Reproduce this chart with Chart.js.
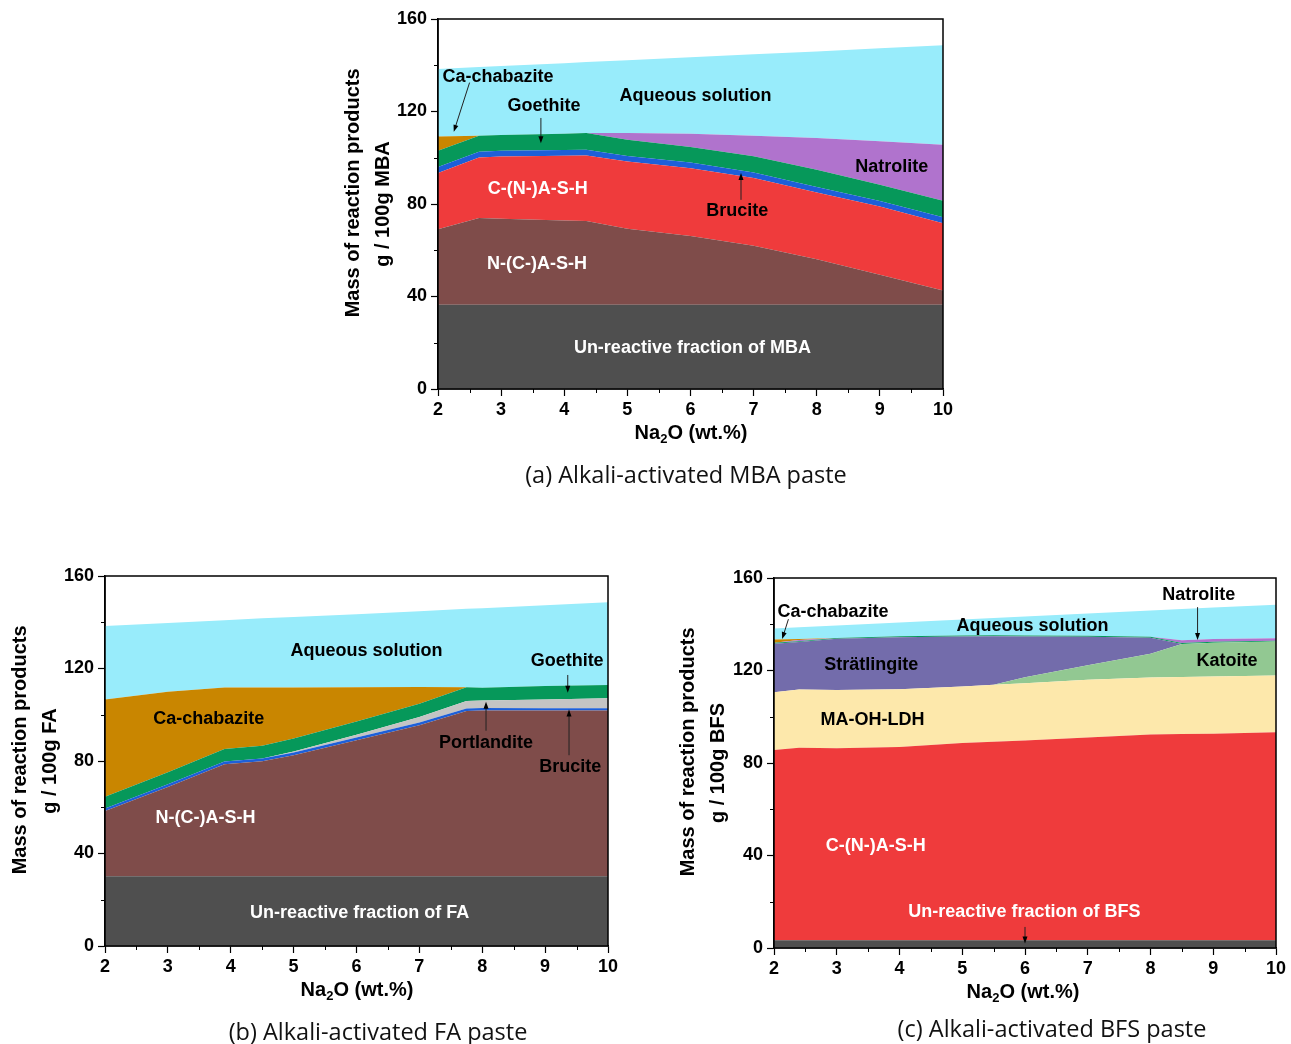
<!DOCTYPE html>
<html>
<head>
<meta charset="utf-8">
<script src="https://cdn.jsdelivr.net/npm/chart.js@4.4.0/dist/chart.umd.min.js"></script>
<style>
  body { margin: 0; background: #fff; width: 1291px; height: 1044px; position: relative; overflow: hidden; }
  canvas { position: absolute; }
  .xt { position: absolute; font: bold 20px "Liberation Sans", Arial, sans-serif; transform: translate(-50%, -50%); white-space: nowrap; color: #000; }
  .xt sub { font-size: 13px; vertical-align: -4px; line-height: 0; }
  .cap { position: absolute; font: 23.5px "Open Sans", sans-serif; transform: translate(-50%, -50%); white-space: nowrap; color: #111; }
</style>
</head>
<body>
<canvas id="chartA" style="left:330px;top:0px" width="630" height="450"></canvas>
<canvas id="chartB" style="left:0px;top:560px" width="625" height="440"></canvas>
<canvas id="chartC" style="left:665px;top:560px" width="626" height="440"></canvas>

<div class="xt" style="left:691px;top:432px">Na<sub>2</sub>O (wt.%)</div>
<div class="xt" style="left:357px;top:989px">Na<sub>2</sub>O (wt.%)</div>
<div class="xt" style="left:1023px;top:991px">Na<sub>2</sub>O (wt.%)</div>

<div class="cap" style="left:686px;top:474px">(a) Alkali-activated MBA paste</div>
<div class="cap" style="left:378px;top:1031px">(b) Alkali-activated FA paste</div>
<div class="cap" style="left:1052px;top:1028px">(c) Alkali-activated BFS paste</div>

<script>
const FONT = '"Liberation Sans", Arial, sans-serif';

// axis ticks
const xTicks = [2, 3, 4, 5, 6, 7, 8, 9, 10];
const xMinor = [2.5, 3.5, 4.5, 5.5, 6.5, 7.5, 8.5, 9.5];
const yTicks = [0, 40, 80, 120, 160];
const yMinor = [20, 60, 100, 140];

// (a) MBA paste, g / 100 g MBA
const naA = [2, 2.65, 3, 4, 4.35, 5, 6, 7, 8, 9, 10];
const unreactA = [36.4, 36.4, 36.4, 36.4, 36.4, 36.4, 36.4, 36.4, 36.4, 36.4, 36.4];
const nashA = [32.7, 37.5, 37.2, 36.5, 36.3, 32.9, 29.8, 25.5, 19.7, 13.0, 6.2];
const cnashA = [24.3, 26.2, 26.9, 28.0, 28.3, 29.1, 29.3, 29.3, 28.9, 29.5, 29.1];
const bruciteA = [2.6, 2.5, 2.5, 2.5, 2.5, 2.4, 2.4, 2.4, 2.4, 2.4, 2.6];
const goethiteA = [7.0, 6.9, 6.8, 7.0, 7.2, 7.0, 6.8, 7.0, 7.4, 7.0, 7.1];
const chabaziteA = [6.2, 0, 0, 0, 0, 0, 0, 0, 0, 0, 0];
const natroliteA = [0, 0, 0, 0, 0, 2.9, 5.7, 8.9, 13.7, 18.8, 24.2];
const aqueousA = [29.2, 29.7, 29.9, 30.5, 30.7, 31.5, 33.1, 35.3, 37.5, 40.2, 43.0];

// (b) FA paste, g / 100 g FA
const naB = [2, 3, 3.9, 4.5, 5, 6, 7, 7.75, 8, 9, 10];
const unreactB = [30.2, 30.2, 30.2, 30.2, 30.2, 30.2, 30.2, 30.2, 30.2, 30.2, 30.2];
const nashB = [28.2, 38.6, 48.4, 49.7, 52.3, 58.8, 65.3, 71.4, 71.6, 71.6, 71.6];
const bruciteB = [1.1, 1.1, 1.2, 1.2, 1.2, 1.2, 1.2, 1.1, 1.1, 1.0, 1.0];
const portlanditeB = [0, 0, 0, 0, 0.4, 1.1, 2.3, 3.3, 3.3, 3.8, 4.3];
const goethiteB = [5.0, 5.2, 5.4, 5.5, 5.6, 5.8, 5.8, 5.9, 5.5, 5.8, 5.8];
const chabaziteB = [42.1, 34.9, 26.6, 25.2, 22.1, 14.8, 7.2, 0, 0, 0, 0];
const aqueousB = [31.8, 29.7, 29.1, 29.9, 30.5, 31.6, 32.8, 33.9, 34.4, 34.9, 35.7];

// (c) BFS paste, g / 100 g BFS
const naC = [2, 2.4, 3, 4, 5, 5.5, 6, 7, 8, 8.5, 9, 10];
const unreactC = [3.3, 3.3, 3.3, 3.3, 3.3, 3.3, 3.3, 3.3, 3.3, 3.3, 3.3, 3.3];
const cnashC = [82.3, 83.3, 83.1, 83.6, 85.4, 85.9, 86.4, 87.7, 89.0, 89.2, 89.4, 90.0];
const ldhC = [25.0, 25.2, 25.2, 25.0, 24.4, 24.6, 24.8, 25.0, 24.7, 24.7, 24.7, 24.5];
const katoiteC = [0, 0, 0, 0, 0, 0, 2.6, 6.3, 10.2, 14.3, 14.6, 14.7];
const stratlingiteC = [21.0, 20.5, 22.1, 22.5, 21.6, 21.0, 17.6, 12.3, 7.0, 0, 0, 0];
const minorC = [0.4, 0.4, 0.4, 0.4, 0.4, 0.4, 0.4, 0.4, 0.4, 0.4, 0.4, 0.4];
const natroliteC = [0, 0.5, 0, 0, 0, 0, 0, 0, 0, 1.2, 1.2, 1.0];
const chabaziteC = [1.4, 0.4, 0, 0, 0, 0, 0, 0, 0, 0, 0, 0];
const aqueousC = [4.8, 5.1, 5.4, 6.0, 7.0, 7.5, 8.3, 9.7, 11.4, 13.5, 13.6, 14.5];

const COL = {
  unreact: '#4f4f4f', nash: '#7f4c4a', cnash: '#ef3b3c', brucite: '#1d5fd8',
  goethite: '#06985a', chabazite: '#c98600', natrolite: '#b073cd', aqueous: '#98ecfb',
  portlandite: '#c4c4c4', strat: '#736cab', ldh: '#fde8ab', katoite: '#92c892'
};

function layers(xs, list) {
  return list.map((l, i) => ({
    label: l[0],
    data: xs.map((x, j) => ({ x: x, y: l[1][j] })),
    backgroundColor: l[2],
    borderWidth: 0,
    pointRadius: 0,
    tension: 0,
    fill: i === 0 ? 'origin' : '-1'
  }));
}

function arrow(ctx, x1, y1, x2, y2) {
  const a = Math.atan2(y2 - y1, x2 - x1);
  ctx.strokeStyle = '#222';
  ctx.fillStyle = '#000';
  ctx.lineWidth = 1;
  ctx.beginPath();
  ctx.moveTo(x1, y1);
  ctx.lineTo(x2 - 5 * Math.cos(a), y2 - 5 * Math.sin(a));
  ctx.stroke();
  ctx.beginPath();
  ctx.moveTo(x2, y2);
  ctx.lineTo(x2 - 7 * Math.cos(a) + 2.5 * Math.sin(a), y2 - 7 * Math.sin(a) - 2.5 * Math.cos(a));
  ctx.lineTo(x2 - 7 * Math.cos(a) - 2.5 * Math.sin(a), y2 - 7 * Math.sin(a) + 2.5 * Math.cos(a));
  ctx.closePath();
  ctx.fill();
}

function extras(notes) {
  return {
    id: 'extras',
    afterDatasetsDraw(chart) {
      const { ctx, chartArea: a, scales: { x, y } } = chart;
      ctx.save();
      ctx.font = 'bold 18px ' + FONT;
      ctx.textAlign = 'center';
      ctx.textBaseline = 'middle';
      notes.forEach(n => {
        ctx.fillStyle = n.white ? '#fff' : '#000';
        ctx.fillText(n.text, x.getPixelForValue(n.x), y.getPixelForValue(n.y));
        if (n.arrow) {
          arrow(ctx, x.getPixelForValue(n.arrow[0]), y.getPixelForValue(n.arrow[1]),
                x.getPixelForValue(n.arrow[2]), y.getPixelForValue(n.arrow[3]));
        }
      });
      // frame and minor ticks
      ctx.strokeStyle = '#000';
      ctx.lineWidth = 1.5;
      ctx.strokeRect(a.left, a.top, a.right - a.left, a.bottom - a.top);
      ctx.lineWidth = 1;
      ctx.beginPath();
      xMinor.forEach(v => {
        const p = Math.round(x.getPixelForValue(v)) + 0.5;
        ctx.moveTo(p, a.bottom); ctx.lineTo(p, a.bottom + 4);
      });
      yMinor.forEach(v => {
        const p = Math.round(y.getPixelForValue(v)) + 0.5;
        ctx.moveTo(a.left, p); ctx.lineTo(a.left - 4, p);
      });
      ctx.stroke();
      ctx.restore();
    }
  };
}

function draw(id, xs, list, cfg) {
  const tickFont = { family: FONT, size: 18, weight: 'bold' };
  new Chart(document.getElementById(id), {
    type: 'line',
    data: { datasets: layers(xs, list) },
    options: {
      responsive: false,
      animation: false,
      events: [],
      layout: { padding: { top: cfg.padTop, right: cfg.padRight, left: 0, bottom: 0 } },
      plugins: { legend: { display: false }, tooltip: { enabled: false } },
      scales: {
        x: {
          type: 'linear', min: 2, max: 10,
          afterBuildTicks: s => { s.ticks = xTicks.map(v => ({ value: v })); },
          ticks: { font: tickFont, color: '#000', padding: 3, maxRotation: 0, autoSkip: false },
          grid: { drawOnChartArea: false, tickLength: 7, tickColor: '#000', tickWidth: 1.2 },
          border: { color: '#000', width: 1.5 },
          afterFit: s => { s.height = cfg.xH; }
        },
        y: {
          stacked: true, min: 0, max: 160,
          afterBuildTicks: s => { s.ticks = yTicks.map(v => ({ value: v })); },
          ticks: { font: tickFont, color: '#000', padding: 4 },
          grid: { drawOnChartArea: false, tickLength: 7, tickColor: '#000', tickWidth: 1.2 },
          border: { color: '#000', width: 1.5 },
          title: {
            display: true, color: '#000',
            // leading spaces nudge the first line upward like the original
            text: ['    Mass of reaction products', cfg.yUnit],
            font: { family: FONT, size: 20, weight: 'bold', lineHeight: 1.5 },
            padding: { top: cfg.titlePad, bottom: 0 }
          },
          afterFit: s => { s.width = cfg.yW; }
        }
      }
    },
    plugins: [extras(cfg.notes)]
  });
}

draw('chartA', naA, [
  ['Un-reactive fraction of MBA', unreactA, COL.unreact],
  ['N-(C-)A-S-H', nashA, COL.nash],
  ['C-(N-)A-S-H', cnashA, COL.cnash],
  ['Brucite', bruciteA, COL.brucite],
  ['Goethite', goethiteA, COL.goethite],
  ['Ca-chabazite', chabaziteA, COL.chabazite],
  ['Natrolite', natroliteA, COL.natrolite],
  ['Aqueous solution', aqueousA, COL.aqueous]
], {
  padTop: 19, padRight: 17, xH: 61, yW: 108, titlePad: 8, yUnit: 'g / 100g MBA',
  notes: [
    { text: 'Ca-chabazite', x: 2.95, y: 134.9, arrow: [2.5, 132.5, 2.25, 111.2] },
    { text: 'Goethite', x: 3.68, y: 122.2, arrow: [3.63, 117.2, 3.63, 106.3] },
    { text: 'Aqueous solution', x: 6.08, y: 126.5 },
    { text: 'Natrolite', x: 9.19, y: 96.2 },
    { text: 'C-(N-)A-S-H', x: 3.58, y: 86.6, white: true },
    { text: 'Brucite', x: 6.74, y: 77.1, arrow: [6.8, 81.8, 6.8, 93.4] },
    { text: 'N-(C-)A-S-H', x: 3.57, y: 54.0, white: true },
    { text: 'Un-reactive fraction of MBA', x: 6.03, y: 17.9, white: true }
  ]
});

draw('chartB', naB, [
  ['Un-reactive fraction of FA', unreactB, COL.unreact],
  ['N-(C-)A-S-H', nashB, COL.nash],
  ['Brucite', bruciteB, COL.brucite],
  ['Portlandite', portlanditeB, COL.portlandite],
  ['Goethite', goethiteB, COL.goethite],
  ['Ca-chabazite', chabaziteB, COL.chabazite],
  ['Aqueous solution', aqueousB, COL.aqueous]
], {
  padTop: 16, padRight: 17, xH: 54, yW: 105, titlePad: 5, yUnit: 'g / 100g FA',
  notes: [
    { text: 'Aqueous solution', x: 6.16, y: 127.6 },
    { text: 'Goethite', x: 9.35, y: 123.2, arrow: [9.36, 117.2, 9.36, 109.5] },
    { text: 'Ca-chabazite', x: 3.65, y: 98.2 },
    { text: 'Portlandite', x: 8.06, y: 87.8, arrow: [8.06, 93.1, 8.06, 105.6] },
    { text: 'Brucite', x: 9.4, y: 77.4, arrow: [9.38, 82.5, 9.38, 102.3] },
    { text: 'N-(C-)A-S-H', x: 3.6, y: 55.4, white: true },
    { text: 'Un-reactive fraction of FA', x: 6.05, y: 14.3, white: true }
  ]
});

draw('chartC', naC, [
  ['Un-reactive fraction of BFS', unreactC, COL.unreact],
  ['C-(N-)A-S-H', cnashC, COL.cnash],
  ['MA-OH-LDH', ldhC, COL.ldh],
  ['Katoite', katoiteC, COL.katoite],
  ['Strätlingite', stratlingiteC, COL.strat],
  ['Minor phase', minorC, COL.goethite],
  ['Natrolite', natroliteC, COL.natrolite],
  ['Ca-chabazite', chabaziteC, COL.chabazite],
  ['Aqueous solution', aqueousC, COL.aqueous]
], {
  padTop: 18, padRight: 15, xH: 52, yW: 109, titlePad: 8, yUnit: 'g / 100g BFS',
  notes: [
    { text: 'Natrolite', x: 8.77, y: 152.6, arrow: [8.75, 147.4, 8.75, 133.2] },
    { text: 'Ca-chabazite', x: 2.94, y: 145.3, arrow: [2.23, 142.2, 2.13, 133.6] },
    { text: 'Aqueous solution', x: 6.12, y: 139.2 },
    { text: 'Strätlingite', x: 3.55, y: 122.4 },
    { text: 'Katoite', x: 9.22, y: 124.1 },
    { text: 'MA-OH-LDH', x: 3.57, y: 98.6 },
    { text: 'C-(N-)A-S-H', x: 3.62, y: 44.1, white: true },
    { text: 'Un-reactive fraction of BFS', x: 5.99, y: 15.6, white: true, arrow: [6.0, 9.1, 6.0, 2.0] }
  ]
});
</script>
</body>
</html>
